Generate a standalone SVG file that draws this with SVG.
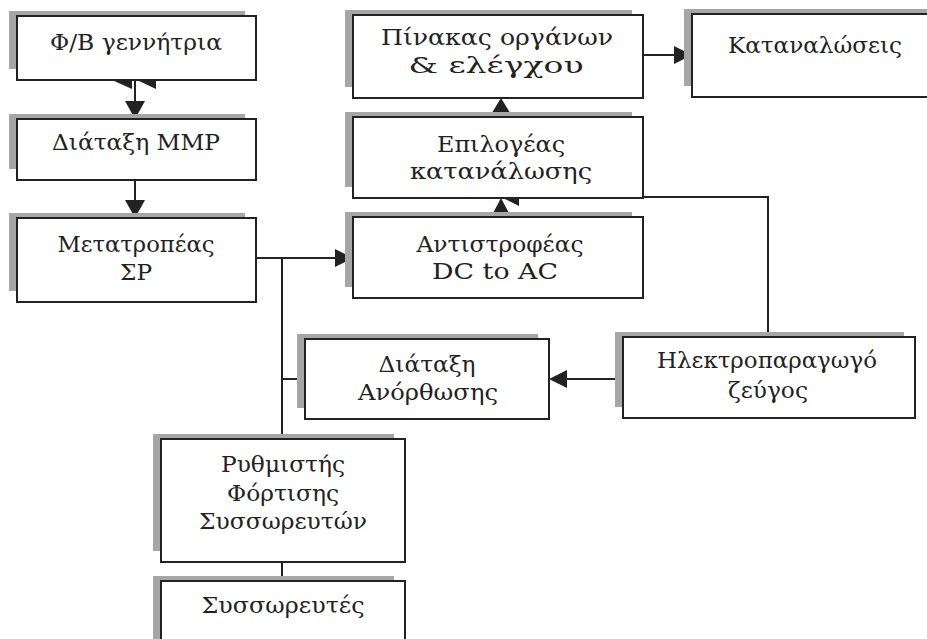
<svg xmlns="http://www.w3.org/2000/svg" width="927" height="639" viewBox="0 0 927 639">
<style>
.box{fill:#fff;stroke:#222;stroke-width:2}
.sh{fill:#a6a6a6}
.t{font-family:"DejaVu Serif","Liberation Serif",serif;font-size:23px;fill:#222;text-anchor:middle}
.ln{fill:none;stroke:#222;stroke-width:2}
.ah{fill:#222}
</style>
<rect width="927" height="639" fill="#fff"/>
<g id="connectors">
<path class="ln" d="M135,80 V104 M135,180 V204 M256,258 H338 M282,258 V439 M282,379 H305 M623,379 H563 M768,337 V197 H643 M643,55 H678 M282,562 V581"/>
<path class="ah" d="M112,80 L132,71 L132,89 Z M137,80 L156,71 L156,89 Z M125,101 L145,101 L135,119 Z M125,200 L145,200 L135,218 Z M353,258 L335,249 L335,267 Z M549,379 L567,370 L567,388 Z M501,197 L519,188 L519,206 Z M501,198 L491,217 L511,217 Z M501,98 L490,116 L512,116 Z M692,55 L674,46 L674,64 Z"/>
</g>
<g id="pv">
<rect class="sh" x="9" y="11" width="236" height="58"/>
<rect class="box" x="17" y="16" width="239" height="64"/>
<text class="t" x="136" y="50" textLength="172" lengthAdjust="spacingAndGlyphs">Φ/B γεννήτρια</text>
</g>
<g id="mmp">
<rect class="sh" x="9" y="114" width="236" height="55"/>
<rect class="box" x="17" y="119" width="239" height="61"/>
<text class="t" x="136" y="150" textLength="168" lengthAdjust="spacingAndGlyphs">Διάταξη MMP</text>
</g>
<g id="dcdc">
<rect class="sh" x="9" y="213" width="236" height="78"/>
<rect class="box" x="17" y="218" width="239" height="84"/>
<text class="t" x="136" y="252" textLength="157" lengthAdjust="spacingAndGlyphs">Μετατροπέας</text>
<text class="t" x="136" y="280" textLength="32" lengthAdjust="spacingAndGlyphs">ΣΡ</text>
</g>
<g id="panel">
<rect class="sh" x="345" y="10" width="287" height="77"/>
<rect class="box" x="353" y="15" width="290" height="83"/>
<text class="t" x="497" y="45" textLength="232" lengthAdjust="spacingAndGlyphs">Πίνακας οργάνων</text>
<text class="t" x="496" y="73" textLength="175" lengthAdjust="spacingAndGlyphs">&amp; ελέγχου</text>
</g>
<g id="selector">
<rect class="sh" x="345" y="112" width="287" height="75"/>
<rect class="box" x="353" y="117" width="290" height="81"/>
<text class="t" x="501" y="152" textLength="128" lengthAdjust="spacingAndGlyphs">Επιλογέας</text>
<text class="t" x="501" y="179" textLength="182" lengthAdjust="spacingAndGlyphs">κατανάλωσης</text>
</g>
<g id="inverter">
<rect class="sh" x="345" y="212" width="287" height="75"/>
<rect class="box" x="353" y="217" width="290" height="81"/>
<text class="t" x="500" y="252" textLength="167" lengthAdjust="spacingAndGlyphs">Αντιστροφέας</text>
<text class="t" x="495" y="279" textLength="126" lengthAdjust="spacingAndGlyphs">DC to AC</text>
</g>
<g id="loads">
<rect class="sh" x="684" y="9" width="247" height="77"/>
<rect class="box" x="692" y="14" width="250" height="83"/>
<text class="t" x="815" y="53" textLength="174" lengthAdjust="spacingAndGlyphs">Καταναλώσεις</text>
</g>
<g id="rectifier">
<rect class="sh" x="297" y="334" width="241" height="74"/>
<rect class="box" x="305" y="339" width="244" height="80"/>
<text class="t" x="427" y="372" textLength="97" lengthAdjust="spacingAndGlyphs">Διάταξη</text>
<text class="t" x="428" y="400" textLength="140" lengthAdjust="spacingAndGlyphs">Ανόρθωσης</text>
</g>
<g id="genset">
<rect class="sh" x="615" y="332" width="289" height="75"/>
<rect class="box" x="623" y="337" width="292" height="81"/>
<text class="t" x="767" y="368" textLength="220" lengthAdjust="spacingAndGlyphs">Ηλεκτροπαραγωγό</text>
<text class="t" x="768" y="398" textLength="80" lengthAdjust="spacingAndGlyphs">ζεύγος</text>
</g>
<g id="charger">
<rect class="sh" x="153" y="434" width="241" height="117"/>
<rect class="box" x="161" y="439" width="244" height="123"/>
<text class="t" x="283" y="472" textLength="124" lengthAdjust="spacingAndGlyphs">Ρυθμιστής</text>
<text class="t" x="283" y="501" textLength="112" lengthAdjust="spacingAndGlyphs">Φόρτισης</text>
<text class="t" x="283" y="529" textLength="168" lengthAdjust="spacingAndGlyphs">Συσσωρευτών</text>
</g>
<g id="batteries">
<rect class="sh" x="153" y="576" width="241" height="70"/>
<rect class="box" x="161" y="581" width="244" height="70"/>
<text class="t" x="283" y="613" textLength="163" lengthAdjust="spacingAndGlyphs">Συσσωρευτές</text>
</g>
</svg>
